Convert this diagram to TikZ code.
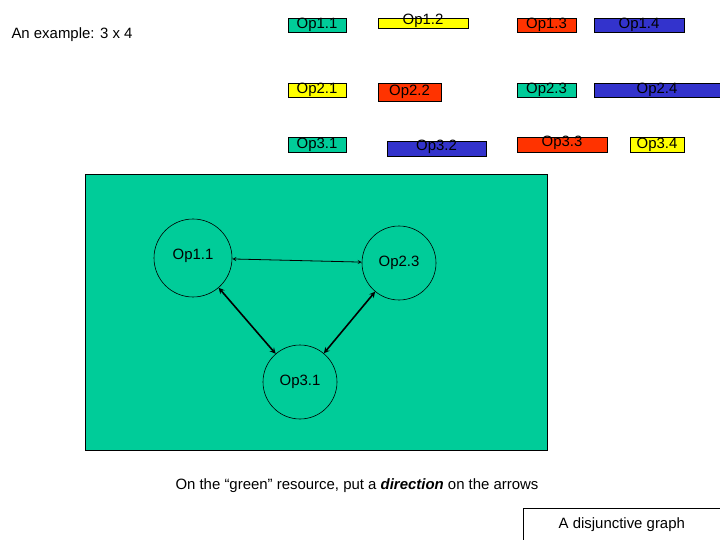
\documentclass[tikz,border=0pt]{standalone}
\usepackage{fontspec}
\setmainfont{Liberation Sans}
\definecolor{gr}{HTML}{00CC99}
\definecolor{ye}{HTML}{FFFF00}
\definecolor{rd}{HTML}{FF3300}
\definecolor{bl}{HTML}{3333CC}
\begin{document}
\begin{tikzpicture}[x=1bp,y=-1bp,
 bar/.style={draw=black,line width=0.8pt,inner sep=0,font=\fontsize{15}{15}\selectfont},
 op/.style={circle,draw=black,line width=0.6pt,inner sep=0,font=\fontsize{15}{15}\selectfont},
 arr/.style={<->,>=stealth,line width=1.6pt}]
\useasboundingbox (0,0) rectangle (720,540);
\node[anchor=west,font=\fontsize{15}{15}\selectfont] (title) at (8,35) {An example: 3 x 4};
\newcommand{\obar}[7]{\draw[fill=#6] (#2,#3) rectangle (#4,#5); \node[inner sep=0,font=\fontsize{15}{15}\selectfont] (#1) at ({(#2+#4)/2},{(#3+#5)/2+#7}) {#1};}
\obar{Op1.1}{288}{18}{346}{32}{gr}{0}
\obar{Op1.2}{378}{18}{468}{28}{ye}{-2}
\obar{Op1.3}{517}{18}{576}{32}{rd}{0}
\obar{Op1.4}{594}{18}{684}{32}{bl}{0}
\obar{Op2.1}{288}{83}{346}{97}{ye}{0}
\obar{Op2.2}{378}{83}{441}{101}{rd}{0}
\obar{Op2.3}{517}{83}{576}{97}{gr}{0}
\obar{Op2.4}{594}{83}{720}{97}{bl}{0}
\obar{Op3.1}{288}{137}{346}{152}{gr}{0}
\obar{Op3.2}{387}{141}{486}{156}{bl}{-2}
\obar{Op3.3}{517}{137}{607}{152}{rd}{-2}
\obar{Op3.4}{630}{137}{684}{152}{ye}{0}
\draw[fill=gr,line width=0.6pt] (85,174) rectangle (547,450);
\node[op,minimum size=78bp] (a) at (193,258) {\raisebox{8bp}{Op1.1}};
\node[op,minimum size=74bp] (b) at (399,263) {Op2.3};
\node[op,minimum size=74bp] (c) at (300,382) {Op3.1};
\draw[<->,>=stealth,line width=0.8pt] (a) -- (b);
\draw[arr] (a) -- (c);
\draw[arr] (b) -- (c);
\node[font=\fontsize{15}{15}\selectfont] (note) at (357,486) {On the “green” resource, put a \textbf{\itshape direction} on the arrows};
\node[draw,line width=0.6pt,anchor=north west,minimum width=197bp,minimum height=32bp,font=\fontsize{15}{15}\selectfont] (dg) at (523,508) {A disjunctive graph};
\end{tikzpicture}
\end{document}
